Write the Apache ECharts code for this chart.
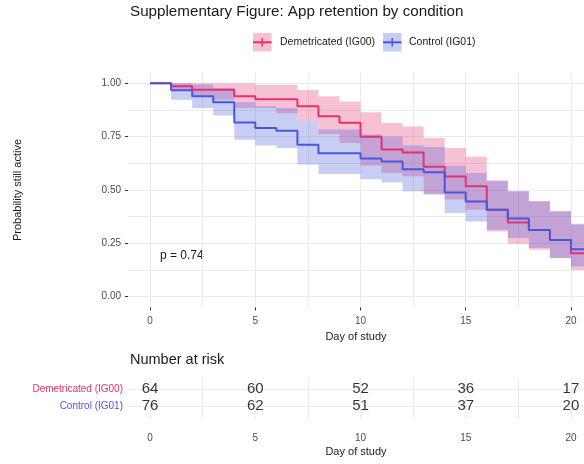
<!DOCTYPE html>
<html lang="en">
<head>
<meta charset="UTF-8">
<title>App retention by condition</title>
<script src="https://cdn.jsdelivr.net/npm/echarts@6/dist/echarts.min.js"></script>
<style>html,body{margin:0;padding:0;background:#fff;}</style>
</head>
<body>
<div id="chart" style="width:584px;height:464px;"></div>
<script>
// step values: value holds on [day, day+1)
var days = [0,1,2,3,4,5,6,7,8,9,10,11,12,13,14,15,16,17,18,19,20];
var endDay = 21;
var groups = ['Demetricated (IG00)', 'Control (IG01)'];

var survIG00  = [1.000,0.986,0.970,0.970,0.939,0.925,0.925,0.892,0.845,0.815,0.750,0.690,0.676,0.609,0.563,0.518,0.408,0.348,0.313,0.266,0.204];
var upperIG00 = [1.000,1.000,1.000,1.000,1.000,0.992,0.992,0.969,0.939,0.915,0.864,0.814,0.798,0.744,0.697,0.656,0.546,0.494,0.447,0.400,0.337];
var lowerIG00 = [1.000,0.970,0.939,0.923,0.884,0.884,0.860,0.822,0.762,0.720,0.615,0.580,0.564,0.482,0.455,0.408,0.306,0.248,0.220,0.181,0.125];

var survIG01  = [1.000,0.967,0.939,0.911,0.816,0.791,0.778,0.712,0.672,0.672,0.647,0.634,0.597,0.583,0.488,0.446,0.407,0.366,0.313,0.266,0.223];
var upperIG01 = [1.000,1.000,0.994,0.978,0.911,0.892,0.884,0.822,0.783,0.783,0.760,0.751,0.708,0.702,0.614,0.580,0.541,0.494,0.447,0.400,0.342];
var lowerIG01 = [1.000,0.923,0.884,0.849,0.735,0.709,0.697,0.619,0.575,0.575,0.550,0.535,0.494,0.478,0.392,0.353,0.314,0.275,0.228,0.181,0.142];

var riskDays = [0,5,10,15,20];
var riskIG00 = [64,60,52,36,17];
var riskIG01 = [76,62,51,37,20];

var xLabels = [0,5,10,15,20];
var xGrid = [0,2.5,5,7.5,10,12.5,15,17.5,20];
var yLabels = [0,0.25,0.5,0.75,1];
var yGrid = [0,0.125,0.25,0.375,0.5,0.625,0.75,0.875,1];
var pText = 'p = 0.74';

var red = '#E5316F', blue = '#4858DC';
var redBand = 'rgba(229,49,111,0.3)', blueBand = 'rgba(72,88,220,0.3)';
var font = 'Liberation Sans, Arial, Helvetica, sans-serif';

function steps(vals) {
    var out = days.map(function (d, i) { return [d, vals[i]]; });
    out.push([endDay, vals[vals.length - 1]]);
    return out;
}

// confidence band as one step-shaped polygon, drawn through the axis scales
function bandSeries(lower, upper, color) {
    return {
        type: 'custom', silent: true, clip: true,
        data: days.map(function (d, i) { return [d, lower[i], upper[i]]; }),
        renderItem: function (params, api) {
            if (params.dataIndex !== 0) return null;
            var top = [], bottom = [];
            days.forEach(function (d, i) {
                var next = i + 1 < days.length ? days[i + 1] : endDay;
                top.push(api.coord([d, upper[i]]), api.coord([next, upper[i]]));
                bottom.push(api.coord([d, lower[i]]), api.coord([next, lower[i]]));
            });
            return {type: 'polygon', shape: {points: top.concat(bottom.reverse())},
                    style: {fill: color}};
        }
    };
}

var chart = echarts.init(document.getElementById('chart'));
var xMin = -1.05, xMax = 20.62;
var gridLine = {show: true, lineStyle: {color: '#ebebeb', width: 1}};
var noLine = {show: false, onZero: false};
var labelStyle = {color: '#4d4d4d', fontSize: 10, fontFamily: font};

chart.setOption({
    animation: false,
    textStyle: {fontFamily: font},
    title: [
        {text: 'Supplementary Figure: App retention by condition', left: 130, top: 4, padding: 0,
         textStyle: {fontSize: 15.2, fontWeight: 'normal', color: '#1a1a1a', fontFamily: font}},
        {text: 'Number at risk', left: 130, top: 352, padding: 0,
         textStyle: {fontSize: 14.5, fontWeight: 'normal', color: '#1a1a1a', fontFamily: font}}
    ],
    grid: [
        {left: 128, right: 0, top: 72.6, height: 234.8},
        {left: 128, right: 0, top: 378, height: 41}
    ],
    xAxis: [
        {type: 'value', gridIndex: 0, min: xMin, max: xMax,
         axisLine: noLine, axisTick: {show: false, customValues: xGrid},
         splitLine: gridLine,
         axisLabel: Object.assign({customValues: xLabels, margin: 9}, labelStyle),
         name: 'Day of study', nameLocation: 'middle', nameGap: 19,
         nameTextStyle: {fontSize: 11, color: '#1a1a1a', fontFamily: font}},
        {type: 'value', gridIndex: 0, min: xMin, max: xMax, position: 'bottom',
         axisLine: noLine, splitLine: {show: false}, axisLabel: {show: false},
         axisTick: {show: true, customValues: xLabels, length: 3, lineStyle: {color: '#333'}}},
        {type: 'value', gridIndex: 1, min: xMin, max: xMax,
         axisLine: noLine, axisTick: {show: false, customValues: xGrid},
         splitLine: gridLine,
         axisLabel: Object.assign({customValues: xLabels, margin: 14}, labelStyle),
         name: 'Day of study', nameLocation: 'middle', nameGap: 27,
         nameTextStyle: {fontSize: 11, color: '#1a1a1a', fontFamily: font}}
    ],
    yAxis: [
        {type: 'value', gridIndex: 0, min: -0.05, max: 1.05,
         axisLine: noLine, axisTick: {show: false, customValues: yGrid},
         splitLine: gridLine,
         axisLabel: Object.assign({customValues: yLabels, margin: 7,
            formatter: function (v) { return (+v).toFixed(2); }}, labelStyle),
         name: 'Probability still active', nameLocation: 'middle', nameGap: 105,
         nameTextStyle: {fontSize: 11, color: '#1a1a1a', fontFamily: font}},
        {type: 'value', gridIndex: 0, min: -0.05, max: 1.05, position: 'left',
         axisLine: noLine, splitLine: {show: false}, axisLabel: {show: false},
         axisTick: {show: true, customValues: yLabels, length: 3, lineStyle: {color: '#333'}}},
        {type: 'value', gridIndex: 1, min: 0.353, max: 2.765, inverse: true,
         axisLine: noLine, axisTick: {show: false, customValues: [1, 2]},
         splitLine: gridLine,
         axisLabel: {customValues: [1, 2], margin: 5, fontSize: 10, fontFamily: font,
            formatter: function (v) { return groups[Math.round(v) - 1]; },
            color: function (v) { return /Control/.test(v) || Math.round(v) === 2 ? blue : red; }}}
    ],
    graphic: [
        {type: 'rect', shape: {x: 253, y: 33, width: 18.5, height: 18.5}, style: {fill: redBand}},
        {type: 'line', shape: {x1: 253, y1: 42.3, x2: 271.5, y2: 42.3}, style: {stroke: red, lineWidth: 2}},
        {type: 'line', shape: {x1: 262.2, y1: 38, x2: 262.2, y2: 46.5}, style: {stroke: red, lineWidth: 1.5}},
        {type: 'text', x: 280, y: 42.5, style: {text: groups[0], fill: '#1a1a1a', verticalAlign: 'middle', font: '10.5px ' + font}},
        {type: 'rect', shape: {x: 383, y: 33, width: 18.5, height: 18.5}, style: {fill: blueBand}},
        {type: 'line', shape: {x1: 383, y1: 42.3, x2: 401.5, y2: 42.3}, style: {stroke: blue, lineWidth: 2}},
        {type: 'line', shape: {x1: 392.2, y1: 38, x2: 392.2, y2: 46.5}, style: {stroke: blue, lineWidth: 1.5}},
        {type: 'text', x: 409, y: 42.5, style: {text: groups[1], fill: '#1a1a1a', verticalAlign: 'middle', font: '10.5px ' + font}},
        {type: 'text', x: 160, y: 256, style: {text: pText, fill: '#1a1a1a', verticalAlign: 'middle', font: '12px ' + font}}
    ],
    series: [
        bandSeries(lowerIG00, upperIG00, redBand),
        bandSeries(lowerIG01, upperIG01, blueBand),
        {name: groups[0], type: 'line', step: 'end', symbol: 'none', data: steps(survIG00),
         lineStyle: {color: red, width: 2}},
        {name: groups[1], type: 'line', step: 'end', symbol: 'none', data: steps(survIG01),
         lineStyle: {color: blue, width: 2}},
        {type: 'scatter', xAxisIndex: 2, yAxisIndex: 2, symbolSize: 0,
         data: riskDays.map(function (d, i) { return [d, 1, riskIG00[i]]; }),
         label: {show: true, position: 'inside', formatter: function (p) { return p.value[2]; },
                 fontSize: 15, color: '#000', fontFamily: font}},
        {type: 'scatter', xAxisIndex: 2, yAxisIndex: 2, symbolSize: 0,
         data: riskDays.map(function (d, i) { return [d, 2, riskIG01[i]]; }),
         label: {show: true, position: 'inside', formatter: function (p) { return p.value[2]; },
                 fontSize: 15, color: '#000', fontFamily: font}}
    ]
});
</script>
</body>
</html>
